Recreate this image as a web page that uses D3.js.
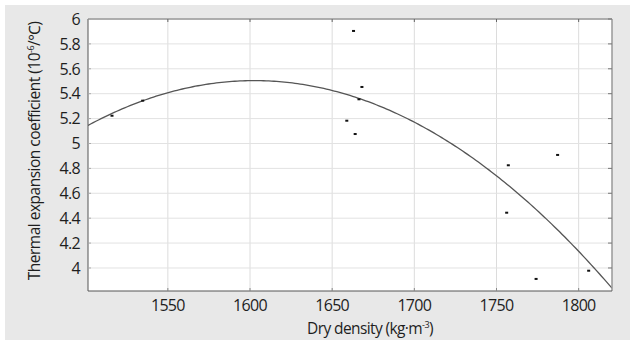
<!DOCTYPE html>
<html>
<head>
<meta charset="utf-8">
<style>
  body { margin: 0; background: #fff; }
  svg text { font-family: "Open Sans", "Noto Sans", sans-serif; fill: #1e1e1e; }
</style>
<script src="https://d3js.org/d3.v7.min.js"></script>
</head>
<body>
<script>
// dry density (kg/m3) and thermal expansion coefficient (10^-6/°C)
const density = [1516, 1534.7, 1663, 1668.1, 1666.3, 1658.9, 1664, 1757.2, 1756.2, 1787.2, 1774.1, 1806.1];
const coef    = [5.223, 5.344, 5.904, 5.454, 5.355, 5.183, 5.076, 4.825, 4.444, 4.908, 3.912, 3.978];
const xTicks = [1550, 1600, 1650, 1700, 1750, 1800];
const yTicks = [4, 4.2, 4.4, 4.6, 4.8, 5, 5.2, 5.4, 5.6, 5.8, 6];

const W = 635, H = 345;
const margin = {left: 88, top: 19, right: 23, bottom: 54};
const iw = W - margin.left - margin.right, ih = H - margin.top - margin.bottom;

const svg = d3.select("body").append("svg").attr("width", W).attr("height", H);

svg.append("rect").attr("x", 5).attr("y", 5).attr("width", 625).attr("height", 335)
  .attr("fill", "#e8e8e8");

const g = svg.append("g").attr("transform", `translate(${margin.left},${margin.top})`);
g.append("rect").attr("width", iw).attr("height", ih).attr("fill", "#fff");

const x = d3.scaleLinear().domain([1501.4, 1820.3]).range([0, iw]);
const y = d3.scaleLinear().domain([3.815, 6]).range([ih, 0]);

// grid
g.selectAll(".gx").data(xTicks).enter().append("line")
  .attr("x1", d => x(d)).attr("x2", d => x(d)).attr("y1", 0).attr("y2", ih)
  .attr("stroke", "#dcdcdc");
g.selectAll(".gy").data(yTicks).enter().append("line")
  .attr("x1", 0).attr("x2", iw).attr("y1", d => y(d)).attr("y2", d => y(d))
  .attr("stroke", "#e2e2e2");

// quadratic least squares fit through the points
function quadFit(xs, ys) {
  const x0 = 1700, s = 100;
  const S = [0, 0, 0, 0, 0], T = [0, 0, 0];
  xs.forEach((xv, i) => {
    const u = (xv - x0) / s;
    for (let k = 0; k < 5; k++) S[k] += Math.pow(u, k);
    for (let k = 0; k < 3; k++) T[k] += ys[i] * Math.pow(u, k);
  });
  const A = [[S[0], S[1], S[2], T[0]], [S[1], S[2], S[3], T[1]], [S[2], S[3], S[4], T[2]]];
  for (let i = 0; i < 3; i++) {
    for (let j = i + 1; j < 3; j++) {
      const f = A[j][i] / A[i][i];
      for (let k = i; k < 4; k++) A[j][k] -= f * A[i][k];
    }
  }
  const c = [0, 0, 0];
  for (let i = 2; i >= 0; i--) {
    let v = A[i][3];
    for (let k = i + 1; k < 3; k++) v -= A[i][k] * c[k];
    c[i] = v / A[i][i];
  }
  return xv => { const u = (xv - x0) / s; return c[0] + c[1] * u + c[2] * u * u; };
}
const fit = quadFit(density, coef);
const curve = d3.range(0, 201).map(i => {
  const xv = x.domain()[0] + (x.domain()[1] - x.domain()[0]) * i / 200;
  return [xv, fit(xv)];
}).filter(p => p[1] >= y.domain()[0] - 0.05);

g.append("clipPath").attr("id", "clip").append("rect").attr("width", iw).attr("height", ih);
g.append("path").datum(curve)
  .attr("clip-path", "url(#clip)")
  .attr("d", d3.line().x(d => x(d[0])).y(d => y(d[1])))
  .attr("fill", "none").attr("stroke", "#555").attr("stroke-width", 1.3);

// points
g.selectAll(".pt").data(density).enter().append("rect")
  .attr("x", (d) => x(d) - 1.5).attr("y", (d, i) => y(coef[i]) - 1)
  .attr("width", 3).attr("height", 2).attr("fill", "#111");

// frame
g.append("line").attr("x1", 0).attr("x2", iw).attr("y1", 0).attr("y2", 0)
  .attr("stroke", "#999").attr("stroke-width", 1.5);
g.append("line").attr("x1", iw).attr("x2", iw).attr("y1", 0).attr("y2", ih)
  .attr("stroke", "#999").attr("stroke-width", 1.5);
g.append("line").attr("x1", 0).attr("x2", 0).attr("y1", 0).attr("y2", ih)
  .attr("stroke", "#555");
g.append("line").attr("x1", 0).attr("x2", iw).attr("y1", ih).attr("y2", ih)
  .attr("stroke", "#555");

// small inner ticks on all sides
xTicks.forEach(t => {
  g.append("line").attr("x1", x(t)).attr("x2", x(t)).attr("y1", 0).attr("y2", 3).attr("stroke", "#666");
  g.append("line").attr("x1", x(t)).attr("x2", x(t)).attr("y1", ih).attr("y2", ih - 3).attr("stroke", "#888");
});
yTicks.forEach(t => {
  g.append("line").attr("x1", iw).attr("x2", iw - 4).attr("y1", y(t)).attr("y2", y(t)).attr("stroke", "#777");
  g.append("line").attr("x1", 0).attr("x2", 3).attr("y1", y(t)).attr("y2", y(t)).attr("stroke", "#aaa");
});

// tick labels
g.selectAll(".xl").data(xTicks).enter().append("text")
  .attr("x", d => x(d)).attr("y", ih + 20)
  .attr("text-anchor", "middle").attr("font-size", 16).attr("letter-spacing", -0.7)
  .text(d => d);
g.selectAll(".yl").data(yTicks).enter().append("text")
  .attr("x", -8).attr("y", d => y(d)).attr("dy", "0.36em")
  .attr("text-anchor", "end").attr("font-size", 16).attr("letter-spacing", -0.7)
  .text(d => d);

// axis titles
const xt = svg.append("text").attr("x", 370).attr("y", 334)
  .attr("text-anchor", "middle").attr("font-size", 15.5).attr("letter-spacing", -0.6);
xt.append("tspan").text("Dry density (kg·m");
xt.append("tspan").attr("font-size", 9).attr("dy", -6).text("-3");
xt.append("tspan").attr("dy", 6).text(")");

const yt = svg.append("text").attr("transform", "translate(40,151) rotate(-90)")
  .attr("text-anchor", "middle").attr("font-size", 15.5).attr("letter-spacing", -0.5);
yt.append("tspan").text("Thermal expansion coefficient (10");
yt.append("tspan").attr("font-size", 9).attr("dy", -6).text("-6");
yt.append("tspan").attr("dy", 6).text("/℃)");
</script>
</body>
</html>
